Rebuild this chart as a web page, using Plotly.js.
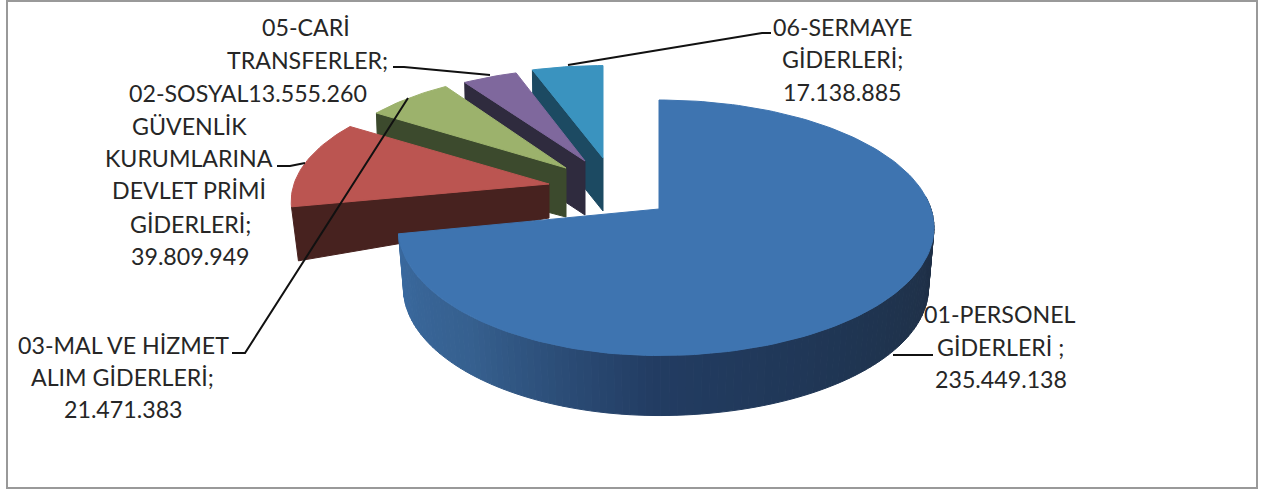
<!DOCTYPE html>
<html>
<head>
<meta charset="utf-8">
<script src="https://cdn.plot.ly/plotly-3.0.1.min.js"></script>
<style>html,body{margin:0;padding:0;background:#fff;overflow:hidden}#chart{width:1269px;height:491px}</style>
</head>
<body>
<div id="chart"></div>
<script>
// ---- data ----
const categories = ["01-PERSONEL GİDERLERİ", "02-SOSYAL GÜVENLİK KURUMLARINA DEVLET PRİMİ GİDERLERİ", "03-MAL VE HİZMET ALIM GİDERLERİ", "05-CARİ TRANSFERLER", "06-SERMAYE GİDERLERİ"];
const values = [235449138, 39809949, 21471383, 13555260, 17138885];
const labelLines = ["05-CARİ", "TRANSFERLER;", "02-SOSYAL13.555.260", "GÜVENLİK", "KURUMLARINA", "DEVLET PRİMİ", "GİDERLERİ;", "39.809.949",
  "03-MAL VE HİZMET", "ALIM GİDERLERİ;", "21.471.383", "01-PERSONEL", "GİDERLERİ ;", "235.449.138", "06-SERMAYE", "GİDERLERİ;", "17.138.885"];

// ---- styling and layout ----
const labelX = [306, 307, 248, 189, 189, 189, 190, 190, 123, 122, 123, 1000, 1000, 1001, 842, 842, 842];
const labelY = [27, 60, 93, 126, 158, 190, 224, 256, 345, 377, 409, 314, 347, 379, 27, 59, 92];
const topColors = ["#3e74b0", "#bb5551", "#9cb26c", "#7f689d", "#3a93bf"];
const sideColors = ["#24406a", "#47221f", "#3c4a2d", "#2f2b3e", "#1c4a62"];
const blueSideStops = [[100, [31, 47, 69]], [140, [31, 53, 82]], [180, [34, 60, 98]], [220, [54, 96, 143]], [259, [58, 106, 160]]];
// apex x/y, horizontal radius left/right, vertical radius, depth at apex/outer, bottom scale
const geom = [
  {ax: 659, ay: 209, rn: 258, rp: 272, ry: 125, dA: 60, dO: 60, sc: 0.98},
  {ax: 549, ay: 184, rn: 255, rp: 255, ry: 115, dA: 34, dO: 54, sc: 0.973},
  {ax: 566, ay: 168, rn: 243, rp: 243, ry: 110, dA: 49, dO: 54, sc: 0.99},
  {ax: 585, ay: 161, rn: 243, rp: 243, ry: 106, dA: 54, dO: 54, sc: 0.99},
  {ax: 603, ay: 158, rn: 249, rp: 249, ry: 106, dA: 53, dO: 54, sc: 0.99}
];
const persp = 0.147;
const leaders = [
  [[568, 65], [762, 33], [771, 33]],
  [[393, 67], [404, 67], [490, 75]],
  [[277, 166], [290, 166], [305, 163]],
  [[232, 353], [245, 353], [408, 98]],
  [[893, 355], [933, 355]]
];

// ---- geometry derived from the values ----
const total = values.reduce((a, b) => a + b, 0);
let acc = 0;
const spans = values.map(v => { const s = acc; acc += v / total * 360; return [s, acc]; });

function rim(g, deg) {
  const t = deg * Math.PI / 180, u = Math.sin(t), v = Math.cos(t), s = 1 / (1 + persp * v);
  return [g.ax + (u < 0 ? g.rn : g.rp) * u * s, g.ay - g.ry * v * s];
}
function rimLow(g, deg) {
  const p = rim(g, deg);
  return [g.ax + (p[0] - g.ax) * g.sc, p[1] + g.dO];
}
function arc(from, to) {
  const out = [], n = Math.max(2, Math.ceil(Math.abs(to - from) / 1.5));
  for (let i = 0; i <= n; i++) out.push(from + (to - from) * i / n);
  return out;
}
function poly(pts, color, name, hover) {
  return {
    type: "scatter", mode: "lines", x: pts.map(p => p[0]), y: pts.map(p => p[1]),
    fill: "toself", fillcolor: color, line: {color: color, width: 1},
    name: name, showlegend: false, hoverinfo: hover ? "text" : "skip", text: hover || ""
  };
}
function bandColor(deg) {
  for (let i = 0; i < blueSideStops.length - 1; i++) {
    const a = blueSideStops[i], b = blueSideStops[i + 1];
    if (deg <= b[0]) {
      const f = Math.max(0, (deg - a[0]) / (b[0] - a[0]));
      return "rgb(" + a[1].map((c, k) => Math.round(c + (b[1][k] - c) * f)).join(",") + ")";
    }
  }
  return "rgb(58,106,160)";
}

const traces = [];
[4, 3, 2, 1, 0].forEach(i => {
  const g = geom[i], [a0, a1] = spans[i];
  const hover = categories[i] + "; " + values[i].toLocaleString("tr-TR");
  if (i > 0) {
    const o = rim(g, a0), l = rimLow(g, a0);
    traces.push(poly([o, [g.ax, g.ay], [g.ax, g.ay + g.dA], l, o], sideColors[i], categories[i]));
  } else {
    const edges = arc(84, a1);
    for (let k = 0; k < edges.length - 1; k++) {
      const p = edges[k], q = edges[k + 1];
      traces.push(poly([rim(g, p), rim(g, q), rimLow(g, q), rimLow(g, p), rim(g, p)], bandColor(p), categories[i]));
    }
  }
  const top = [[g.ax, g.ay]].concat(arc(a0, a1).map(d => rim(g, d)));
  top.push([g.ax, g.ay]);
  traces.push(poly(top, topColors[i], categories[i], hover));
});

const annotations = labelLines.map((t, i) => ({
  x: labelX[i], y: labelY[i], xref: "x", yref: "y", text: t, showarrow: false,
  xanchor: "center", yanchor: "middle", font: {family: "Lato, 'Open Sans', sans-serif", size: 23.2, color: "#262626"}
}));
const shapes = leaders.map(L => ({
  type: "path", xref: "x", yref: "y",
  path: L.map((p, i) => (i ? "L" : "M") + p[0] + "," + p[1]).join(" "),
  line: {color: "#111", width: 2}
}));
shapes.push({type: "rect", xref: "x", yref: "y", x0: 7, y0: 1, x1: 1257, y1: 488, line: {color: "#999999", width: 2}, fillcolor: "rgba(0,0,0,0)"});

Plotly.newPlot("chart", traces, {
  width: 1269, height: 491, margin: {l: 0, r: 0, t: 0, b: 0},
  paper_bgcolor: "#ffffff", plot_bgcolor: "#ffffff", showlegend: false,
  xaxis: {range: [0, 1269], visible: false, fixedrange: true},
  yaxis: {range: [491, 0], visible: false, fixedrange: true},
  annotations: annotations, shapes: shapes
}, {displayModeBar: false, responsive: false});
</script>
</body>
</html>
